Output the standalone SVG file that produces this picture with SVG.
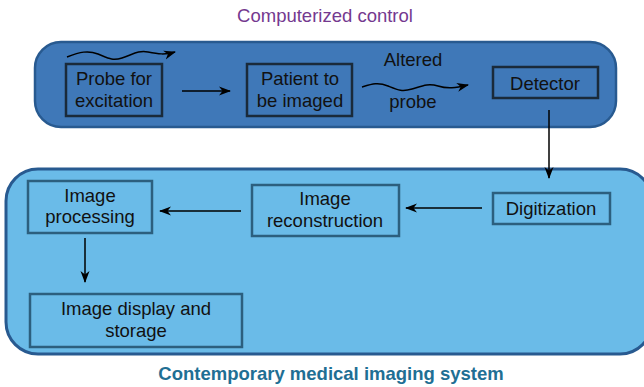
<svg xmlns="http://www.w3.org/2000/svg" width="644" height="387" viewBox="0 0 644 387">
<defs>
<marker id="ah" viewBox="0 0 12 10" refX="11" refY="5" markerWidth="12" markerHeight="10" markerUnits="userSpaceOnUse" orient="auto">
<path d="M0,0.5 L12,5 L0,9.5 L3.5,5 Z" fill="#000"/>
</marker>
<style>
.t{font-family:"Liberation Sans",Arial,sans-serif;font-size:18.5px;fill:#111;text-anchor:middle}
.tb{stroke:#1a2a3a;stroke-width:2.5;fill:none}
.bb{stroke:#2c5f7e;stroke-width:2.5;fill:none}
.c{stroke:#000;stroke-width:1.5;fill:none;marker-end:url(#ah)}
</style>
</defs>
<rect width="644" height="387" fill="#fff"/>
<text x="325" y="22" style="font-family:'Liberation Sans',Arial,sans-serif;font-size:18.5px;fill:#74398f;text-anchor:middle">Computerized control</text>
<g id="top-container"><rect x="35" y="42" width="581" height="85" rx="26" fill="#3f78b8" stroke="#285a90" stroke-width="2.5"/></g>
<g id="bottom-container"><rect x="6" y="169" width="646" height="185" rx="32" fill="#6abbe8" stroke="#285a90" stroke-width="3"/></g>
<g id="probe"><rect class="tb" x="66" y="64" width="96" height="52"/><text class="t" x="114" y="85">Probe for</text><text class="t" x="114" y="107">excitation</text></g>
<g id="patient"><rect class="tb" x="247" y="64" width="105" height="52"/><text class="t" x="300" y="85">Patient to</text><text class="t" x="300" y="107">be imaged</text></g>
<g id="detector"><rect class="tb" x="493" y="67" width="105" height="31"/><text class="t" x="545" y="90">Detector</text></g>
<g id="digitization"><rect class="bb" x="493" y="193" width="117" height="31"/><text class="t" x="551" y="215">Digitization</text></g>
<g id="reconstruction"><rect class="bb" x="252" y="185" width="147" height="51"/><text class="t" x="325" y="205">Image</text><text class="t" x="325" y="227">reconstruction</text></g>
<g id="processing"><rect class="bb" x="28" y="181" width="124" height="52"/><text class="t" x="90" y="202">Image</text><text class="t" x="90" y="223">processing</text></g>
<g id="display"><rect class="bb" x="30" y="294" width="212" height="53"/><text class="t" x="136" y="315">Image display and</text><text class="t" x="136" y="337">storage</text></g>
<g id="labels"><text class="t" x="413" y="66">Altered</text><text class="t" x="413" y="108">probe</text></g>
<g id="connectors">
<path class="c" d="M67,57 C80,52 88,50 98,54 C108,58 112,61 122,58 C132,55 138,50 148,52 C158,54 165,55 175,52"/>
<path class="c" d="M182,91 L230,91"/>
<path class="c" d="M362,87 C372,84 378,82 388,86 C398,90 402,92 412,89 C422,86 428,83 438,86 C448,89 455,88 468,85"/>
<path class="c" d="M549,110 L549,178"/>
<path class="c" d="M482,208 L406,208"/>
<path class="c" d="M241,211 L160,211"/>
<path class="c" d="M85,238 L85,282"/>
</g>
<text x="331" y="380" style="font-family:'Liberation Sans',Arial,sans-serif;font-size:18.5px;font-weight:bold;fill:#1f6f94;text-anchor:middle">Contemporary medical imaging system</text>
</svg>
